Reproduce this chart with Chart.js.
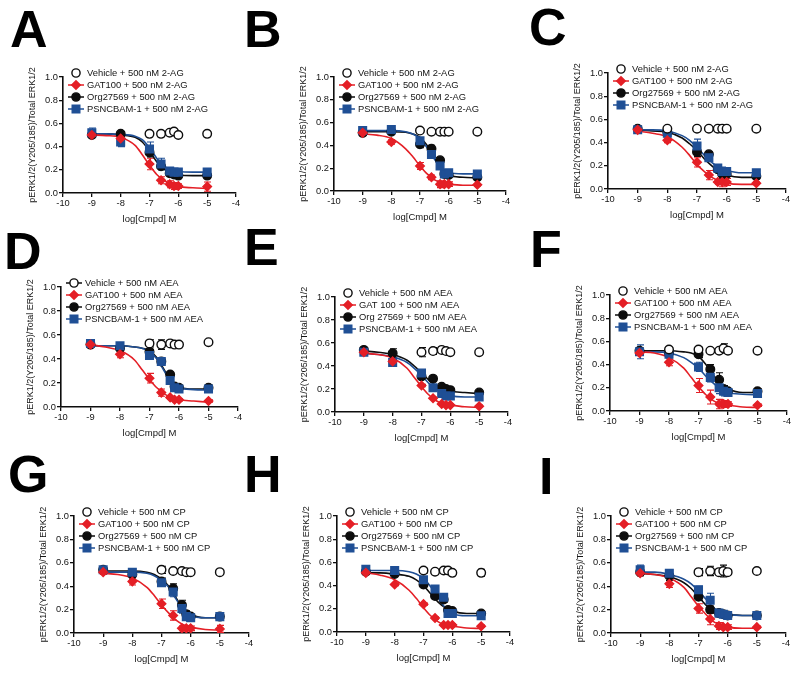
<!DOCTYPE html>
<html>
<head>
<meta charset="utf-8">
<title>pERK1/2 concentration-response panels</title>
<script src="https://cdn.jsdelivr.net/npm/chart.js@4.4.0/dist/chart.umd.min.js"></script>
<style>
  html, body { margin: 0; padding: 0; background: #fff; }
  body { width: 800px; height: 673px; position: relative; overflow: hidden; font-family: "Liberation Sans", Arial, sans-serif; }
  .letter { position: absolute; font-weight: bold; font-size: 52px; line-height: 52px; color: #000; }
  .panel { position: absolute; }
  .panel canvas { display: block; }
</style>
</head>
<body>
<script>
// ---- data ----
const doseX = [-9, -8, -7, -6.6, -6.3, -6.15, -6, -5];
const fitX = [-9, -8.5, -8, -7.5, -7.25, -7, -6.75, -6.5, -6.25, -6, -5.5, -5];

// A: 2-AG
const vehA = [null, null, 0.51, 0.51, 0.52, 0.53, 0.50, 0.51];
const vehErrA = [0, 0, 0.01, 0.01, 0.01, 0.01, 0.02, 0.01];
const gatA = [0.50, 0.47, 0.25, 0.11, 0.075, 0.06, 0.06, 0.055];
const gatErrA = [0.02, 0.03, 0.05, 0.03, 0.03, 0.03, 0.02, 0.04];
const orgA = [0.50, 0.51, 0.35, 0.23, 0.17, 0.16, 0.15, 0.15];
const orgErrA = [0.02, 0.02, 0.04, 0.03, 0.02, 0.02, 0.02, 0.01];
const psnA = [0.52, 0.44, 0.38, 0.25, 0.19, 0.18, 0.18, 0.18];
const psnErrA = [0.04, 0.04, 0.06, 0.05, 0.03, 0.02, 0.02, 0.02];
const gatFitA = [0.50, 0.495, 0.48, 0.41, 0.33, 0.24, 0.16, 0.11, 0.075, 0.055, 0.045, 0.04];
const orgFitA = [0.51, 0.51, 0.50, 0.48, 0.44, 0.36, 0.27, 0.21, 0.17, 0.155, 0.15, 0.15];
const psnFitA = [0.51, 0.51, 0.505, 0.49, 0.46, 0.39, 0.30, 0.235, 0.195, 0.185, 0.18, 0.18];

// B: 2-AG
const vehB = [null, null, 0.53, 0.52, 0.52, 0.52, 0.52, 0.52];
const vehErrB = [0, 0, 0.01, 0.01, 0.01, 0.01, 0.01, 0.02];
const gatB = [0.51, 0.43, 0.22, 0.12, 0.06, 0.06, 0.06, 0.055];
const gatErrB = [0.01, 0.02, 0.03, 0.02, 0.03, 0.02, 0.02, 0.01];
const orgB = [0.51, 0.52, 0.41, 0.37, 0.27, 0.15, 0.14, 0.12];
const orgErrB = [0.02, 0.02, 0.03, 0.03, 0.02, 0.02, 0.02, 0.02];
const psnB = [0.53, 0.54, 0.44, 0.32, 0.22, 0.15, 0.16, 0.15];
const psnErrB = [0.02, 0.02, 0.02, 0.02, 0.02, 0.02, 0.02, 0.02];
const gatFitB = [0.50, 0.49, 0.46, 0.37, 0.30, 0.22, 0.15, 0.10, 0.07, 0.06, 0.05, 0.05];
const orgFitB = [0.52, 0.52, 0.52, 0.515, 0.50, 0.47, 0.40, 0.30, 0.19, 0.14, 0.12, 0.115];
const psnFitB = [0.53, 0.53, 0.53, 0.52, 0.50, 0.46, 0.38, 0.28, 0.20, 0.16, 0.15, 0.15];

// C: 2-AG
const vehC = [null, 0.52, 0.52, 0.52, 0.52, 0.52, 0.52, 0.52];
const vehErrC = [0, 0.01, 0.01, 0.01, 0.01, 0.01, 0.01, 0.01];
const gatC = [0.51, 0.42, 0.23, 0.12, 0.06, 0.06, 0.06, 0.05];
const gatErrC = [0.02, 0.02, 0.04, 0.04, 0.02, 0.04, 0.03, 0.01];
const orgC = [0.52, 0.49, 0.32, 0.30, 0.17, 0.13, 0.13, 0.11];
const orgErrC = [0.02, 0.02, 0.04, 0.02, 0.03, 0.04, 0.02, 0.02];
const psnC = [0.51, 0.48, 0.37, 0.27, 0.18, 0.15, 0.15, 0.14];
const psnErrC = [0.03, 0.02, 0.06, 0.03, 0.03, 0.04, 0.02, 0.02];
const gatFitC = [0.50, 0.48, 0.45, 0.36, 0.29, 0.21, 0.15, 0.10, 0.07, 0.05, 0.04, 0.04];
const orgFitC = [0.51, 0.50, 0.49, 0.44, 0.39, 0.33, 0.26, 0.20, 0.15, 0.12, 0.10, 0.10];
const psnFitC = [0.51, 0.51, 0.50, 0.46, 0.42, 0.36, 0.29, 0.23, 0.18, 0.16, 0.14, 0.14];

// D: AEA
const vehD = [null, null, 0.53, 0.52, 0.53, 0.52, 0.52, 0.54];
const vehErrD = [0, 0, 0.03, 0.04, 0.01, 0.02, 0.01, 0.01];
const gatD = [0.52, 0.44, 0.24, 0.12, 0.08, 0.06, 0.06, 0.05];
const gatErrD = [0.02, 0.03, 0.04, 0.03, 0.01, 0.01, 0.01, 0.01];
const orgD = [0.52, 0.49, 0.46, 0.38, 0.27, 0.17, 0.16, 0.16];
const orgErrD = [0.02, 0.02, 0.02, 0.02, 0.02, 0.02, 0.02, 0.02];
const psnD = [0.53, 0.51, 0.43, 0.38, 0.22, 0.16, 0.15, 0.15];
const psnErrD = [0.03, 0.02, 0.03, 0.02, 0.02, 0.02, 0.02, 0.02];
const gatFitD = [0.52, 0.50, 0.47, 0.39, 0.31, 0.23, 0.16, 0.11, 0.08, 0.06, 0.05, 0.04];
const orgFitD = [0.51, 0.51, 0.51, 0.50, 0.49, 0.47, 0.41, 0.31, 0.21, 0.165, 0.15, 0.15];
const psnFitD = [0.51, 0.51, 0.51, 0.50, 0.49, 0.46, 0.40, 0.30, 0.20, 0.16, 0.145, 0.14];

// E: AEA
const vehE = [null, null, 0.52, 0.53, 0.54, 0.53, 0.52, 0.52];
const vehErrE = [0, 0, 0.04, 0.03, 0.02, 0.02, 0.01, 0.01];
const gatE = [0.52, 0.44, 0.23, 0.12, 0.07, 0.06, 0.06, 0.05];
const gatErrE = [0.01, 0.02, 0.01, 0.01, 0.01, 0.01, 0.01, 0.01];
const orgE = [0.54, 0.51, 0.31, 0.29, 0.22, 0.20, 0.19, 0.17];
const orgErrE = [0.01, 0.04, 0.01, 0.01, 0.01, 0.01, 0.01, 0.01];
const psnE = [0.52, 0.43, 0.34, 0.21, 0.16, 0.14, 0.14, 0.13];
const psnErrE = [0.01, 0.02, 0.02, 0.01, 0.01, 0.02, 0.01, 0.01];
const gatFitE = [0.51, 0.50, 0.47, 0.38, 0.30, 0.22, 0.15, 0.10, 0.07, 0.06, 0.045, 0.04];
const orgFitE = [0.53, 0.52, 0.50, 0.45, 0.40, 0.34, 0.28, 0.23, 0.20, 0.18, 0.17, 0.16];
const psnFitE = [0.51, 0.50, 0.48, 0.43, 0.38, 0.32, 0.25, 0.20, 0.16, 0.14, 0.13, 0.13];

// F: AEA
const vehF = [null, 0.53, 0.53, 0.52, 0.52, 0.54, 0.52, 0.52];
const vehErrF = [0, 0.01, 0.02, 0.01, 0.02, 0.04, 0.01, 0.01];
const gatF = [0.50, 0.42, 0.22, 0.12, 0.06, 0.06, 0.06, 0.05];
const gatErrF = [0.02, 0.03, 0.06, 0.06, 0.04, 0.03, 0.02, 0.01];
const orgF = [0.52, 0.50, 0.49, 0.36, 0.27, 0.19, 0.17, 0.17];
const orgErrF = [0.02, 0.02, 0.03, 0.04, 0.06, 0.03, 0.02, 0.02];
const psnF = [0.51, 0.49, 0.38, 0.29, 0.20, 0.17, 0.16, 0.15];
const psnErrF = [0.06, 0.02, 0.04, 0.04, 0.05, 0.04, 0.02, 0.02];
const gatFitF = [0.51, 0.50, 0.46, 0.37, 0.29, 0.21, 0.14, 0.09, 0.06, 0.05, 0.035, 0.03];
const orgFitF = [0.52, 0.52, 0.52, 0.51, 0.50, 0.47, 0.40, 0.31, 0.23, 0.19, 0.16, 0.16];
const psnFitF = [0.51, 0.51, 0.50, 0.46, 0.42, 0.37, 0.30, 0.24, 0.19, 0.16, 0.145, 0.14];

// G: CP
const vehG = [null, null, 0.54, 0.53, 0.53, 0.52, 0.52, 0.52];
const vehErrG = [0, 0, 0.03, 0.02, 0.02, 0.02, 0.01, 0.01];
const gatG = [0.52, 0.44, 0.25, 0.15, 0.04, 0.04, 0.04, 0.035];
const gatErrG = [0.02, 0.03, 0.04, 0.04, 0.02, 0.02, 0.02, 0.03];
const orgG = [0.54, 0.50, 0.44, 0.38, 0.24, 0.16, 0.14, 0.14];
const orgErrG = [0.02, 0.04, 0.03, 0.04, 0.04, 0.03, 0.02, 0.02];
const psnG = [0.54, 0.52, 0.43, 0.35, 0.21, 0.14, 0.13, 0.14];
const psnErrG = [0.02, 0.03, 0.03, 0.04, 0.04, 0.03, 0.02, 0.03];
const gatFitG = [0.51, 0.50, 0.47, 0.39, 0.32, 0.24, 0.17, 0.11, 0.07, 0.05, 0.03, 0.025];
const orgFitG = [0.53, 0.53, 0.53, 0.52, 0.50, 0.46, 0.40, 0.30, 0.21, 0.16, 0.13, 0.13];
const psnFitG = [0.52, 0.52, 0.52, 0.51, 0.49, 0.45, 0.39, 0.29, 0.20, 0.15, 0.13, 0.13];

// H: CP
const vehH = [null, null, 0.53, 0.52, 0.53, 0.53, 0.51, 0.51];
const vehErrH = [0, 0, 0.02, 0.01, 0.02, 0.02, 0.01, 0.03];
const gatH = [0.51, 0.41, 0.24, 0.12, 0.06, 0.06, 0.06, 0.05];
const gatErrH = [0.01, 0.01, 0.01, 0.01, 0.01, 0.01, 0.01, 0.01];
const orgH = [0.52, 0.50, 0.41, 0.31, 0.28, 0.19, 0.18, 0.16];
const orgErrH = [0.01, 0.01, 0.02, 0.02, 0.02, 0.02, 0.01, 0.01];
const psnH = [0.54, 0.53, 0.45, 0.37, 0.30, 0.16, 0.16, 0.14];
const psnErrH = [0.02, 0.01, 0.02, 0.02, 0.02, 0.02, 0.02, 0.01];
const gatFitH = [0.51, 0.49, 0.45, 0.36, 0.29, 0.21, 0.14, 0.09, 0.06, 0.05, 0.035, 0.03];
const orgFitH = [0.51, 0.51, 0.50, 0.48, 0.45, 0.40, 0.33, 0.26, 0.21, 0.18, 0.16, 0.16];
const psnFitH = [0.53, 0.53, 0.53, 0.52, 0.50, 0.46, 0.39, 0.30, 0.21, 0.16, 0.14, 0.14];

// I: CP
const vehI = [null, null, 0.52, 0.53, 0.52, 0.53, 0.52, 0.53];
const vehErrI = [0, 0, 0.03, 0.04, 0.02, 0.05, 0.02, 0.02];
const gatI = [0.51, 0.42, 0.21, 0.12, 0.06, 0.05, 0.05, 0.05];
const gatErrI = [0.02, 0.03, 0.04, 0.05, 0.03, 0.02, 0.02, 0.01];
const orgI = [0.52, 0.49, 0.31, 0.20, 0.17, 0.16, 0.15, 0.15];
const orgErrI = [0.03, 0.04, 0.03, 0.03, 0.02, 0.02, 0.02, 0.01];
const psnI = [0.54, 0.51, 0.37, 0.28, 0.17, 0.16, 0.15, 0.15];
const psnErrI = [0.04, 0.03, 0.03, 0.06, 0.02, 0.02, 0.02, 0.02];
const gatFitI = [0.51, 0.50, 0.47, 0.39, 0.31, 0.23, 0.16, 0.10, 0.07, 0.05, 0.04, 0.04];
const orgFitI = [0.51, 0.50, 0.48, 0.43, 0.38, 0.31, 0.24, 0.19, 0.17, 0.16, 0.15, 0.15];
const psnFitI = [0.52, 0.52, 0.50, 0.46, 0.42, 0.36, 0.29, 0.22, 0.18, 0.16, 0.15, 0.15];

// ---- styling ----
const FONT = '"Liberation Sans", Arial, sans-serif';
const RED = '#e41f26';
const BLUE = '#1f4f95';
const BLACK = '#0d0d0d';
const TEXT = '#141414';
const PAD_L = 48, PAD_R = 16, PAD_T = 24, PAD_B = 33;
const MARK_R = 4.3;

// panel placement: plot box [left, top, width, height] and letter [left, top]
const panels = [
  { id: 'A', plot: [63, 77, 173, 116], letter: [10, 3], agonist: '2-AG', gat: 'GAT100', org: 'Org27569',
    veh: vehA, vehErr: vehErrA, gatY: gatA, gatErr: gatErrA, orgY: orgA, orgErr: orgErrA, psnY: psnA, psnErr: psnErrA, gatFit: gatFitA, orgFit: orgFitA, psnFit: psnFitA },
  { id: 'B', plot: [334, 77, 172, 114], letter: [244, 3], agonist: '2-AG', gat: 'GAT100', org: 'Org27569',
    veh: vehB, vehErr: vehErrB, gatY: gatB, gatErr: gatErrB, orgY: orgB, orgErr: orgErrB, psnY: psnB, psnErr: psnErrB, gatFit: gatFitB, orgFit: orgFitB, psnFit: psnFitB },
  { id: 'C', plot: [608, 73, 178, 116], letter: [529, 1], agonist: '2-AG', gat: 'GAT100', org: 'Org27569',
    veh: vehC, vehErr: vehErrC, gatY: gatC, gatErr: gatErrC, orgY: orgC, orgErr: orgErrC, psnY: psnC, psnErr: psnErrC, gatFit: gatFitC, orgFit: orgFitC, psnFit: psnFitC },
  { id: 'D', plot: [61, 287, 177, 120], letter: [4, 225], agonist: 'AEA', gat: 'GAT100', org: 'Org27569', vehLine: true,
    veh: vehD, vehErr: vehErrD, gatY: gatD, gatErr: gatErrD, orgY: orgD, orgErr: orgErrD, psnY: psnD, psnErr: psnErrD, gatFit: gatFitD, orgFit: orgFitD, psnFit: psnFitD },
  { id: 'E', plot: [335, 297, 173, 115], letter: [244, 221], agonist: 'AEA', gat: 'GAT 100', org: 'Org 27569',
    veh: vehE, vehErr: vehErrE, gatY: gatE, gatErr: gatErrE, orgY: orgE, orgErr: orgErrE, psnY: psnE, psnErr: psnErrE, gatFit: gatFitE, orgFit: orgFitE, psnFit: psnFitE },
  { id: 'F', plot: [610, 295, 177, 116], letter: [530, 223], agonist: 'AEA', gat: 'GAT100', org: 'Org27569',
    veh: vehF, vehErr: vehErrF, gatY: gatF, gatErr: gatErrF, orgY: orgF, orgErr: orgErrF, psnY: psnF, psnErr: psnErrF, gatFit: gatFitF, orgFit: orgFitF, psnFit: psnFitF },
  { id: 'G', plot: [74, 516, 175, 117], letter: [8, 448], agonist: 'CP', gat: 'GAT100', org: 'Org27569',
    veh: vehG, vehErr: vehErrG, gatY: gatG, gatErr: gatErrG, orgY: orgG, orgErr: orgErrG, psnY: psnG, psnErr: psnErrG, gatFit: gatFitG, orgFit: orgFitG, psnFit: psnFitG },
  { id: 'H', plot: [337, 516, 173, 116], letter: [244, 448], agonist: 'CP', gat: 'GAT100', org: 'Org27569',
    veh: vehH, vehErr: vehErrH, gatY: gatH, gatErr: gatErrH, orgY: orgH, orgErr: orgErrH, psnY: psnH, psnErr: psnErrH, gatFit: gatFitH, orgFit: orgFitH, psnFit: psnFitH },
  { id: 'I', plot: [611, 516, 175, 117], letter: [539, 450], agonist: 'CP', gat: 'GAT100', org: 'Org27569',
    veh: vehI, vehErr: vehErrI, gatY: gatI, gatErr: gatErrI, orgY: orgI, orgErr: orgErrI, psnY: psnI, psnErr: psnErrI, gatFit: gatFitI, orgFit: orgFitI, psnFit: psnFitI }
];

// ---- helpers ----
const points = (ys, errs) => doseX
  .map((x, i) => ({ x, y: ys[i], e: errs ? errs[i] : 0 }))
  .filter(d => d.y !== null);
const curve = ys => fitX.map((x, i) => ({ x, y: ys[i] }));

const drawMarker = (ctx, style, x, y, fill, stroke) => {
  const r = MARK_R;
  ctx.save();
  ctx.fillStyle = fill;
  ctx.strokeStyle = stroke;
  ctx.lineWidth = 1.4;
  ctx.beginPath();
  if (style === 'circle') ctx.arc(x, y, r - 0.2, 0, Math.PI * 2);
  else if (style === 'rect') ctx.rect(x - 3.8, y - 3.8, 7.6, 7.6);
  else { ctx.moveTo(x, y - r); ctx.lineTo(x + r, y); ctx.lineTo(x, y + r); ctx.lineTo(x - r, y); ctx.closePath(); }
  ctx.fill();
  ctx.stroke();
  ctx.restore();
};

// vertical SEM bars with caps, drawn under the markers
const errorBars = {
  id: 'errorBars',
  beforeDatasetsDraw(chart) {
    const { ctx, scales: { x, y } } = chart;
    chart.data.datasets.forEach(ds => {
      if (!ds.errColor) return;
      ctx.save();
      ctx.strokeStyle = ds.errColor;
      ctx.lineWidth = 1.1;
      ds.data.forEach(d => {
        if (!d.e) return;
        const px = Math.round(x.getPixelForValue(d.x)) + 0.5;
        const yHi = y.getPixelForValue(d.y + d.e);
        const yLo = y.getPixelForValue(Math.max(d.y - d.e, 0));
        ctx.beginPath();
        ctx.moveTo(px, yHi); ctx.lineTo(px, yLo);
        ctx.moveTo(px - 3.5, yHi); ctx.lineTo(px + 3.5, yHi);
        ctx.moveTo(px - 3.5, yLo); ctx.lineTo(px + 3.5, yLo);
        ctx.stroke();
      });
      ctx.restore();
    });
  }
};

// legend drawn inside the plot, top-left, GraphPad style
const insetLegend = {
  id: 'insetLegend',
  afterDraw(chart, args, opts) {
    const { ctx, chartArea } = chart;
    if (!opts.items) return;
    ctx.save();
    ctx.font = '9.4px ' + FONT;
    ctx.textBaseline = 'middle';
    ctx.textAlign = 'left';
    opts.items.forEach((it, i) => {
      const y = chartArea.top - 4 + i * 12;
      const left = chartArea.left;
      if (it.line) {
        ctx.strokeStyle = it.stroke;
        ctx.lineWidth = 1.5;
        ctx.beginPath();
        ctx.moveTo(left + 5, y); ctx.lineTo(left + 21, y);
        ctx.stroke();
      }
      drawMarker(ctx, it.style, left + 13, y, it.fill, it.stroke);
      ctx.fillStyle = TEXT;
      ctx.fillText(it.text, left + 24, y + 0.5);
    });
    ctx.restore();
  }
};

const markerSet = (label, data, style, fill, stroke, errColor) => ({
  label, data, errColor,
  showLine: false,
  pointStyle: style,
  pointRadius: style === 'rect' ? 5.4 : MARK_R,
  pointBackgroundColor: fill,
  pointBorderColor: stroke,
  pointBorderWidth: 1.4,
  order: 0
});

const fitSet = (data, color) => ({
  data,
  borderColor: color,
  borderWidth: 1.6,
  pointRadius: 0,
  cubicInterpolationMode: 'monotone',
  fill: false,
  order: 5
});

function buildPanel(p) {
  const [L, T, W, H] = p.plot;

  const letter = document.createElement('div');
  letter.className = 'letter';
  letter.textContent = p.id;
  letter.style.left = p.letter[0] + 'px';
  letter.style.top = p.letter[1] + 'px';
  document.body.appendChild(letter);

  const wrap = document.createElement('div');
  wrap.className = 'panel';
  const cv = document.createElement('canvas');
  cv.width = W + PAD_L + PAD_R;
  cv.height = H + PAD_T + PAD_B;
  cv.style.width = cv.width + 'px';
  cv.style.height = cv.height + 'px';
  wrap.appendChild(cv);
  wrap.style.left = (L - PAD_L) + 'px';
  wrap.style.top = (T - PAD_T) + 'px';
  document.body.appendChild(wrap);

  const lbl = {
    veh: 'Vehicle + 500 nM ' + p.agonist,
    gat: p.gat + ' + 500 nM ' + p.agonist,
    org: p.org + ' + 500 nM ' + p.agonist,
    psn: 'PSNCBAM-1 + 500 nM ' + p.agonist
  };

  const tickFont = { family: FONT, size: 9.3 };

  const chart = new Chart(cv, {
    type: 'line',
    data: {
      datasets: [
        markerSet(lbl.veh, points(p.veh, p.vehErr), 'circle', '#ffffff', BLACK, BLACK),
        markerSet(lbl.gat, points(p.gatY, p.gatErr), 'rectRot', RED, RED, RED),
        markerSet(lbl.psn, points(p.psnY, p.psnErr), 'rect', BLUE, BLUE, BLUE),
        markerSet(lbl.org, points(p.orgY, p.orgErr), 'circle', BLACK, BLACK, BLACK),
        fitSet(curve(p.gatFit), RED),
        fitSet(curve(p.psnFit), BLUE),
        fitSet(curve(p.orgFit), BLACK)
      ]
    },
    options: {
      responsive: false,
      maintainAspectRatio: false,
      animation: false,
      devicePixelRatio: 1,
      layout: { padding: { top: PAD_T, right: PAD_R, left: 0, bottom: 0 } },
      plugins: {
        legend: { display: false },
        tooltip: { enabled: false },
        insetLegend: {
          items: [
            { text: lbl.veh, style: 'circle', fill: '#ffffff', stroke: BLACK, line: !!p.vehLine },
            { text: lbl.gat, style: 'rectRot', fill: RED, stroke: RED, line: true },
            { text: lbl.org, style: 'circle', fill: BLACK, stroke: BLACK, line: true },
            { text: lbl.psn, style: 'rect', fill: BLUE, stroke: BLUE, line: true }
          ]
        }
      },
      scales: {
        x: {
          type: 'linear',
          min: -10,
          max: -4,
          afterFit: s => { s.height = PAD_B; },
          ticks: { stepSize: 1, color: TEXT, font: tickFont, padding: 1, maxRotation: 0, autoSkip: false, callback: v => String(v) },
          grid: { drawOnChartArea: false, drawTicks: true, tickLength: 4, color: BLACK, lineWidth: 1.3 },
          border: { display: true, color: BLACK, width: 1.6 },
          title: { display: true, text: 'log[Cmpd] M', color: TEXT, font: { family: FONT, size: 9.5 }, padding: { top: 0, bottom: 1 } }
        },
        y: {
          type: 'linear',
          min: 0,
          max: 1,
          afterFit: s => { s.width = PAD_L; },
          ticks: { stepSize: 0.2, color: TEXT, font: tickFont, padding: 1, callback: v => Number(v).toFixed(1) },
          grid: { drawOnChartArea: false, drawTicks: true, tickLength: 4, color: BLACK, lineWidth: 1.3 },
          border: { display: true, color: BLACK, width: 1.6 },
          title: { display: true, text: 'pERK1/2(Y205/185)/Total ERK1/2', color: TEXT, font: { family: FONT, size: 9 }, padding: { top: 12, bottom: 0 } }
        }
      }
    },
    plugins: [errorBars, insetLegend]
  });

  // nudge the canvas so the plot box sits exactly where the figure has it
  const ca = chart.chartArea;
  wrap.style.left = (L - ca.left) + 'px';
  wrap.style.top = (T - ca.top) + 'px';
}

panels.forEach(buildPanel);
</script>
</body>
</html>
